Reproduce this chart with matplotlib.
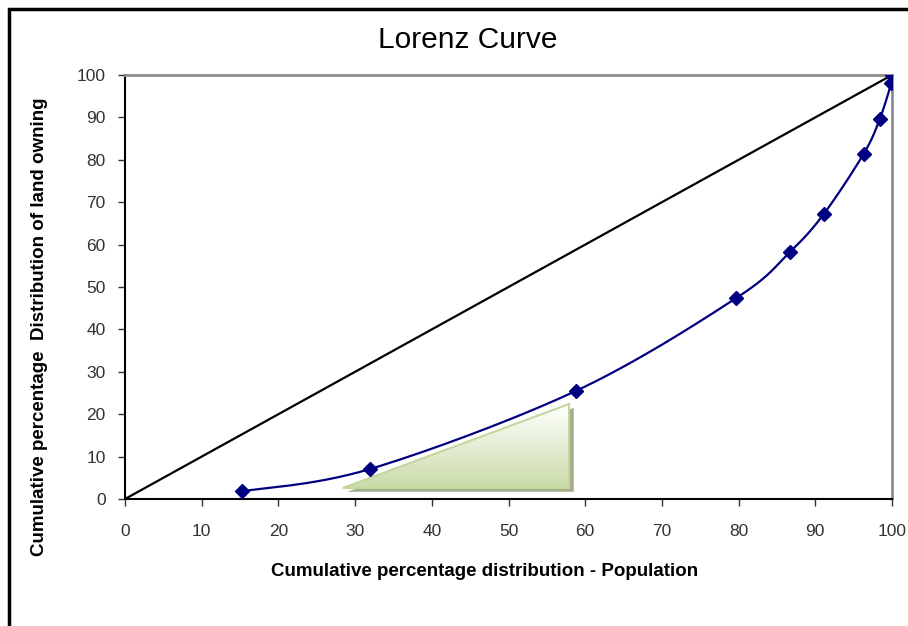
import matplotlib
matplotlib.use("Agg")
import matplotlib.pyplot as plt
import numpy as np
from matplotlib.patches import Polygon, Rectangle

# data
pop = [15.2, 32.0, 58.8, 79.7, 86.7, 91.1, 96.3, 98.4, 99.9, 100.0]
land = [1.8, 7.1, 25.5, 47.4, 58.3, 67.2, 81.4, 89.6, 98.1, 100.0]
equality_x = [0, 100]
equality_y = [0, 100]
xticks = list(range(0, 101, 10))
yticks = list(range(0, 101, 10))

sans = ['Liberation Sans', 'DejaVu Sans']


def smooth(xs, ys, n=30):
    # catmull-rom like excel's smoothed line
    xs = np.asarray(xs, float)
    ys = np.asarray(ys, float)
    px = np.concatenate([[xs[0]], xs, [xs[-1]]])
    py = np.concatenate([[ys[0]], ys, [ys[-1]]])
    ox, oy = [], []
    t = np.linspace(0, 1, n)
    for i in range(1, len(px) - 2):
        p0, p1, p2, p3 = [np.array([px[j], py[j]]) for j in range(i - 1, i + 3)]
        c1 = p1 + (p2 - p0) / 6
        c2 = p2 - (p3 - p1) / 6
        b = ((1 - t) ** 3)[:, None] * p1 + (3 * (1 - t) ** 2 * t)[:, None] * c1 \
            + (3 * (1 - t) * t ** 2)[:, None] * c2 + (t ** 3)[:, None] * p2
        ox.extend(b[:, 0])
        oy.extend(b[:, 1])
    return ox, oy


fig = plt.figure(figsize=(9.08, 6.26), dpi=100)
ax = fig.add_axes([125 / 908, 1 - 499 / 626, 767 / 908, 424 / 626])

# decorative triangle with shadow and gradient
tri = [(28.4, 2.6), (57.9, 22.4), (57.9, 2.6)]
shadow = [(x + 0.6, y - 0.9) for x, y in tri]
ax.add_patch(Polygon(shadow, closed=True, fc='#a3ad8c', ec='none', zorder=1))
grad = np.linspace(0, 1, 100)[:, None]
cmap = matplotlib.colors.LinearSegmentedColormap.from_list('g', ['#cadcaa', '#ffffff'])
im = ax.imshow(grad, extent=[28.4, 57.9, 2.6, 22.4], cmap=cmap, aspect='auto',
               origin='lower', zorder=2)
tp = Polygon(tri, closed=True, fc='none', ec='#c3d69b', lw=1.5, zorder=3)
ax.add_patch(tp)
im.set_clip_path(tp)

ax.plot(equality_x, equality_y, color='black', lw=1.6, zorder=4)
sx, sy = smooth(pop, land)
ax.plot(sx, sy, color='#000080', lw=1.6, zorder=5)
ax.plot(pop, land, ls='none', marker='D', ms=7, color='#000080', zorder=6)

ax.set_xlim(0, 100)
ax.set_ylim(0, 100)
ax.set_xticks(xticks)
ax.set_yticks(yticks)
ax.tick_params(direction='out', length=5, width=1, color='#333333', labelsize=12.5)
ax.tick_params(axis='x', pad=13)
ax.tick_params(axis='y', pad=9)
for lab in ax.get_xticklabels() + ax.get_yticklabels():
    lab.set_family(sans)
    lab.set_color('#333333')
ax.spines['top'].set_color('#8c8c8c')
ax.spines['right'].set_color('#8c8c8c')
ax.spines['top'].set_linewidth(2)
ax.spines['right'].set_linewidth(2)
ax.spines['left'].set_linewidth(1.5)
ax.spines['bottom'].set_linewidth(1.5)

fig.text(468 / 908, 1 - 40 / 626, 'Lorenz Curve', ha='center', va='center',
         fontsize=21.5, family=sans)
fig.text(485 / 908, 1 - 572 / 626, 'Cumulative percentage distribution - Population',
         ha='center', va='center', fontsize=13.5, fontweight='bold', family=sans)
fig.text(40 / 908, 1 - 327 / 626, 'Cumulative percentage  Distribution of land owning',
         ha='center', va='center', rotation=90, fontsize=13.5, fontweight='bold', family=sans)

fig.patches.append(Rectangle((9 / 908, -0.1), 1.2, 1 - 9 / 626 + 0.1,
                             transform=fig.transFigure, fill=False, ec='black', lw=2.5))

fig.savefig('out.png', dpi=100)
